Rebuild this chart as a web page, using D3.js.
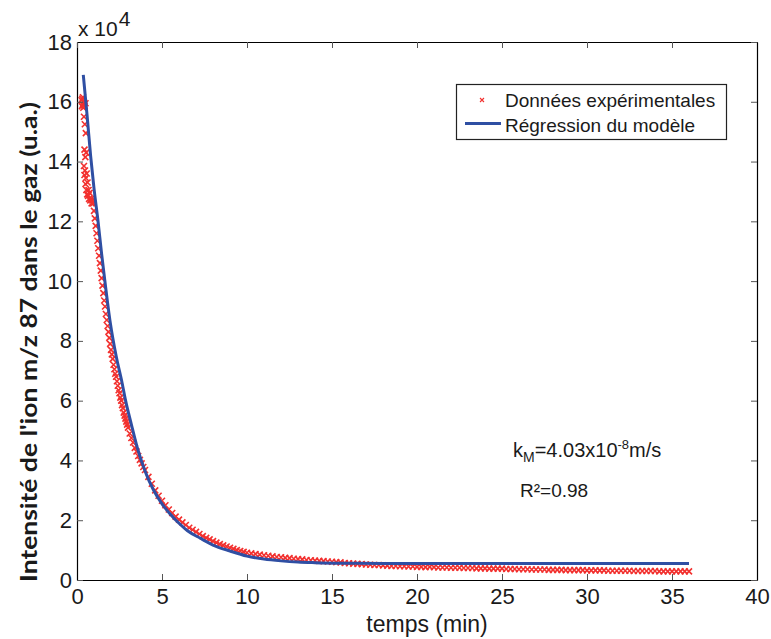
<!DOCTYPE html>
<html><head><meta charset="utf-8">
<script src="https://cdn.jsdelivr.net/npm/d3@7"></script>
<style>body{margin:0;background:#fff}svg{display:block}</style>
</head><body>
<svg id="c" width="771" height="639"></svg>
<script>
// ---- data (intensity in units of 10^4) ----
const xTicks = [0,5,10,15,20,25,30,35,40];
const yTicks = [0,2,4,6,8,10,12,14,16,18];
const seriesNames = ["Données expérimentales", "Régression du modèle"];

// Blue model regression [time (min), intensity]
const modelCurve = [
 [0.37,16.9],[0.6,15.5],[0.8,14.2],[1.0,13.1],[1.23,12.04],[1.45,10.9],[1.63,10.05],[1.96,8.6],
 [2.3,7.5],[2.65,6.6],[2.84,6.05],[3.2,5.2],[3.53,4.46],[4.0,3.65],[4.5,3.01],[5.0,2.55],
 [5.49,2.2],[6.0,1.9],[6.5,1.65],[7.25,1.4],[8.0,1.17],[9.0,0.97],[10.0,0.8],[11.0,0.7],
 [12.0,0.64],[13.0,0.6],[14.0,0.58],[16.0,0.56],[18.0,0.55],[36.0,0.55]
];

// Red experimental points [time (min), intensity]
const expPoints = [
 [0.27,16.05],[0.29,15.85],[0.31,16.1],[0.33,15.9],[0.35,16.15],[0.37,15.8],[0.39,16.0],[0.42,15.9],[0.45,15.85],[0.5,15.95],
 [0.41,15.5],[0.46,15.25],[0.52,14.95],
 [0.44,14.4],[0.49,14.15],[0.54,14.3],
 [0.41,13.85],[0.44,13.55],[0.47,13.7],[0.5,13.25],[0.52,13.45],[0.55,13.05],[0.57,13.6],[0.6,12.9],[0.62,13.3],
 [0.65,12.85],[0.68,13.05],[0.71,12.75],[0.74,12.95],[0.78,12.7],[0.82,12.75],[0.86,12.6],[0.9,12.7],[0.95,12.6],
 [1.0,12.35],[1.05,12.1],[1.1,11.85],[1.15,11.6],
 [1.2,11.35],[1.25,11.1],[1.3,10.85],[1.35,10.6],[1.4,10.35],[1.45,10.1],[1.5,9.85],[1.55,9.6],[1.6,9.35],
 [1.65,9.15],[1.7,8.9],[1.75,8.7],[1.8,8.5],[1.85,8.3],[1.9,8.1],[1.95,7.9],[2.0,7.7],[2.05,7.55],[2.1,7.4],
 [2.15,7.2],[2.2,7.05],[2.25,6.9],[2.3,6.8],[2.35,6.65],[2.4,6.5],[2.45,6.35],[2.5,6.25],[2.55,6.1],[2.6,6.0],
 [2.65,5.85],[2.7,5.75],[2.75,5.6],[2.8,5.5],[2.85,5.4],[2.9,5.3],[2.95,5.2],[3.0,5.1],
 [3.1,4.9],[3.2,4.75],[3.3,4.6],[3.4,4.42],[3.5,4.3],[3.6,4.15],[3.7,4.02],[3.8,3.9],[3.9,3.78],[4.0,3.68],
 [4.2,3.45],[4.4,3.22],[4.6,3.0],[4.8,2.82],[5.0,2.65],[5.2,2.5],[5.4,2.36],[5.6,2.24],[5.8,2.12],[6.0,2.02],
 [6.2,1.93],[6.4,1.84],[6.6,1.75],[6.8,1.68],[7.0,1.61],[7.2,1.54],[7.4,1.47],[7.6,1.41],[7.8,1.36],[8.0,1.3],
 [8.2,1.25],[8.4,1.2],[8.6,1.16],[8.8,1.12],[9.0,1.08],[9.2,1.04],[9.4,1.0],[9.6,0.97],[9.8,0.94],[10.0,0.91],
 [10.25,0.89],[10.5,0.87],[10.75,0.85],[11.0,0.83],[11.25,0.81],[11.5,0.79],[11.75,0.77],[12.0,0.76],
 [12.25,0.74],[12.5,0.73],[12.75,0.71],[13.0,0.7],[13.25,0.69],[13.5,0.67],[13.75,0.66],[14.0,0.65],
 [14.25,0.64],[14.5,0.63],[14.75,0.62],[15.0,0.61],[15.25,0.6],[15.5,0.59],[15.75,0.57],[16.0,0.56],
 [16.25,0.55],[16.5,0.54],[16.75,0.53],[17.0,0.52],[17.25,0.51],[17.5,0.5],[17.75,0.5],[18.0,0.49],
 [18.25,0.48],[18.5,0.47],[18.75,0.47],[19.0,0.46],[19.25,0.46],[19.5,0.45],[19.75,0.45],[20.0,0.44],
 [20.25,0.44],[20.5,0.43],[20.75,0.44],[21.0,0.43],[21.25,0.42],[21.5,0.42],[21.75,0.42],[22.0,0.41],
 [22.25,0.41],[22.5,0.41],[22.75,0.4],[23.0,0.4],[23.25,0.4],[23.5,0.39],[23.75,0.39],[24.0,0.39],
 [24.25,0.38],[24.5,0.38],[24.75,0.38],[25.0,0.38],[25.25,0.37],[25.5,0.37],[25.75,0.37],[26.0,0.36],
 [26.25,0.36],[26.5,0.36],[26.75,0.35],[27.0,0.35],[27.25,0.35],[27.5,0.35],[27.75,0.34],[28.0,0.34],
 [28.25,0.34],[28.5,0.34],[28.75,0.33],[29.0,0.33],[29.25,0.33],[29.5,0.33],[29.75,0.33],[30.0,0.32],
 [30.25,0.32],[30.5,0.32],[30.75,0.32],[31.0,0.32],[31.25,0.31],[31.5,0.31],[31.75,0.31],[32.0,0.31],
 [32.25,0.31],[32.5,0.31],[32.75,0.3],[33.0,0.3],[33.25,0.3],[33.5,0.3],[33.75,0.3],[34.0,0.3],
 [34.25,0.29],[34.5,0.29],[34.75,0.29],[35.0,0.29],[35.25,0.29],[35.5,0.29],[35.75,0.29],[36.0,0.29]
];

// ---- layout ----
const L = 77, R = 757, T = 42, B = 580;
const svg = d3.select("#c");
const x = d3.scaleLinear().domain([0,40]).range([L,R]);
const y = d3.scaleLinear().domain([0,18]).range([B,T]);
const numFont = "'Liberation Sans', Arial, sans-serif";
const ink = "#1a1a1a";

// red markers
svg.append("g").selectAll("path").data(expPoints).join("path")
  .attr("transform", d => `translate(${x(d[0])},${y(d[1])})`)
  .attr("d", "M-3,-3L3,3M-3,3L3,-3")
  .attr("stroke", "#f2302e").attr("stroke-width", 1.6).attr("fill", "none");

// blue model line
svg.append("path").datum(modelCurve)
  .attr("d", d3.line().x(d => x(d[0])).y(d => y(d[1])).curve(d3.curveMonotoneX))
  .attr("fill", "none").attr("stroke", "#2f4fa3").attr("stroke-width", 3);

// axes (MATLAB style: inward ticks on all sides)
const axB = d3.axisBottom(x).tickValues(xTicks).tickSizeInner(-6).tickSizeOuter(0).tickPadding(8);
const axL = d3.axisLeft(y).tickValues(yTicks).tickSizeInner(-6).tickSizeOuter(0).tickPadding(5);
const axT = d3.axisTop(x).tickValues(xTicks).tickSizeInner(-6).tickSizeOuter(0).tickFormat("");
const axR = d3.axisRight(y).tickValues(yTicks).tickSizeInner(-6).tickSizeOuter(0).tickFormat("");
const gB = svg.append("g").attr("transform", `translate(0,${B})`).call(axB);
const gL = svg.append("g").attr("transform", `translate(${L},0)`).call(axL);
const gT = svg.append("g").attr("transform", `translate(0,${T})`).call(axT);
const gR = svg.append("g").attr("transform", `translate(${R},0)`).call(axR);
[gB,gL,gT,gR].forEach(g => {
  g.select(".domain").attr("stroke", "#000").attr("stroke-width", 1.2);
  g.selectAll(".tick line").attr("stroke", "#555");
  g.selectAll(".tick text").attr("font-family", numFont).attr("font-size", 22).attr("fill", ink);
});
gB.selectAll(".tick text").attr("dy", "0.71em");

// exponent label
const ex = svg.append("text").attr("x", 78).attr("y", 36)
  .attr("font-family", numFont).attr("font-size", 21).attr("fill", ink);
ex.append("tspan").text("x 10");
ex.append("tspan").attr("dy", -10).attr("dx", 1).text("4");

// axis titles
svg.append("text").attr("x", (L+R)/2 + 10).attr("y", 632).attr("text-anchor", "middle")
  .attr("font-family", numFont).attr("font-size", 23).attr("fill", ink).text("temps (min)");
svg.append("text").attr("transform", "translate(37,342) rotate(-90)")
  .attr("text-anchor", "middle").attr("font-family", "Lato, 'Open Sans', sans-serif")
  .attr("font-weight", "bold").attr("font-size", 22).attr("fill", ink)
  .attr("textLength", 480).attr("lengthAdjust", "spacingAndGlyphs")
  .text("Intensité de l'ion m/z 87 dans le gaz (u.a.)");

// legend
const lg = svg.append("g");
lg.append("rect").attr("x", 456.5).attr("y", 84.5).attr("width", 270).attr("height", 55)
  .attr("fill", "#fff").attr("stroke", "#222").attr("stroke-width", 1.2);
lg.append("path").attr("transform", "translate(482,100)").attr("d", "M-2,-2L2,2M-2,2L2,-2")
  .attr("stroke", "#f2302e").attr("stroke-width", 1.1);
lg.append("line").attr("x1", 465).attr("x2", 501).attr("y1", 123.5).attr("y2", 123.5)
  .attr("stroke", "#2f4fa3").attr("stroke-width", 3);
lg.selectAll("text.lt").data(seriesNames).join("text").attr("class", "lt")
  .attr("x", 505).attr("y", (d,i) => 107 + i*25)
  .attr("font-family", numFont).attr("font-size", 19).attr("fill", ink).text(d => d);

// annotations
const k = svg.append("text").attr("x", 513).attr("y", 457)
  .attr("font-family", numFont).attr("font-size", 20).attr("fill", ink);
k.append("tspan").text("k");
k.append("tspan").attr("font-size", 14).attr("dy", 5).text("M");
k.append("tspan").attr("dy", -5).text("=4.03x10");
k.append("tspan").attr("font-size", 13).attr("dy", -8).text("-8");
k.append("tspan").attr("dy", 8).text("m/s");
svg.append("text").attr("x", 520).attr("y", 497)
  .attr("font-family", numFont).attr("font-size", 19).attr("fill", ink).text("R²=0.98");
</script>
</body></html>
